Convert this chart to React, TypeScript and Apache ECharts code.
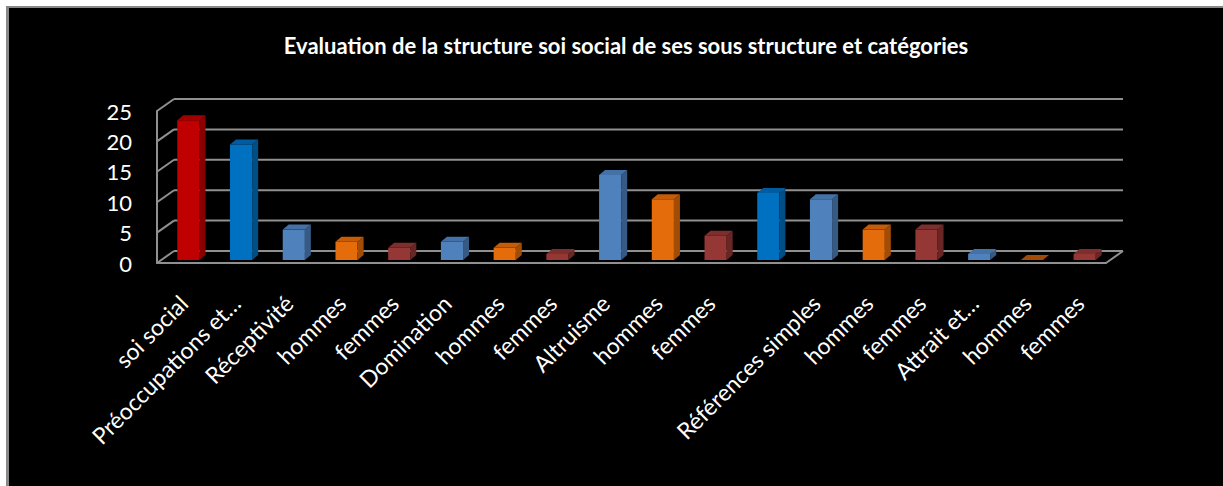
import React, { useEffect, useRef } from "react";
import * as echarts from "echarts";

const title = "Evaluation de la structure soi social de ses sous structure et catégories";
const categories = [
  "soi social", "Préoccupations et…", "Réceptivité", "hommes", "femmes",
  "Domination", "hommes", "femmes", "Altruisme", "hommes", "femmes",
  "", "Références simples", "hommes", "femmes", "Attrait et…", "hommes", "femmes",
];
const values = [23, 19, 5, 3, 2, 3, 2, 1, 14, 10, 4, 11, 10, 5, 5, 1, 0, 1];
const yTicks = [0, 5, 10, 15, 20, 25];

// styles (face colours per bar: front, side, top)
const RED = ["#C00000", "#8A0000", "#A00000"];
const DBLUE = ["#0070C0", "#004E86", "#005CA0"];
const LBLUE = ["#4F81BD", "#375A85", "#4472A8"];
const ORANGE = ["#E46C0A", "#A24C06", "#C45C08"];
const DRED = ["#953735", "#692625", "#7E2E2D"];
const barStyles = [RED, DBLUE, LBLUE, ORANGE, DRED, LBLUE, ORANGE, DRED, LBLUE, ORANGE, DRED, DBLUE, LBLUE, ORANGE, DRED, LBLUE, ORANGE, DRED];

const FRAME = "#909090";
const WALL_DX = 17;
const WALL_DY = -12;

export default function App() {
  const ref = useRef<HTMLDivElement>(null);
  useEffect(() => {
    if (!ref.current) return;
    const chart = echarts.init(ref.current, null, { renderer: "svg" });
    chart.setOption({
      animation: false,
      backgroundColor: "transparent",
      graphic: [
        {
          type: "text",
          x: 626,
          y: 45,
          style: {
            text: title,
            fill: "#ffffff",
            font: "bold 22px Lato",
            textAlign: "center",
            textVerticalAlign: "middle",
          },
        },
      ],
      grid: { left: 157, right: 117, top: 111, bottom: 223, containLabel: false },
      xAxis: {
        type: "category",
        data: categories,
        axisLine: { show: true, lineStyle: { color: FRAME, width: 2 } },
        axisTick: { show: false },
        axisLabel: {
          interval: 0,
          rotate: 45,
          margin: 36,
          color: "#ffffff",
          fontFamily: "Lato",
          fontSize: 23,
        },
        splitLine: { show: false },
      },
      yAxis: {
        type: "value",
        min: 0,
        max: 25,
        interval: 5,
        axisLine: { show: true, lineStyle: { color: FRAME, width: 2 } },
        axisTick: { show: false },
        axisLabel: {
          margin: 25,
          color: "#ffffff",
          fontFamily: "Lato",
          fontSize: 22,
          padding: [4, 0, 0, 0],
        },
        splitLine: { show: false },
      },
      series: [
        {
          type: "custom",
          z: 1,
          clip: false,
          silent: true,
          data: yTicks.map((v) => [0, v]),
          renderItem: (params: any, api: any) => {
            const cs = params.coordSys;
            const v = api.value(1);
            const y = api.coord([0, v])[1];
            const x0 = cs.x;
            const x1 = cs.x + cs.width;
            const ls = { stroke: FRAME, lineWidth: 2 };
            const children: any[] = [
              { type: "line", shape: { x1: x0 + WALL_DX, y1: y + WALL_DY, x2: x1 + WALL_DX, y2: y + WALL_DY }, style: ls },
              { type: "line", shape: { x1: x0, y1: y, x2: x0 + WALL_DX, y2: y + WALL_DY }, style: ls },
            ];
            if (v === 0) {
              children.push({ type: "line", shape: { x1: x1, y1: y, x2: x1 + WALL_DX, y2: y + WALL_DY }, style: ls });
            }
            return { type: "group", children };
          },
        },
        {
          type: "custom",
          z: 3,
          clip: false,
          data: values.map((v, i) => [i, v]),
          renderItem: (params: any, api: any) => {
            const i = api.value(0);
            const v = api.value(1);
            const top = api.coord([i, v]);
            const base = api.coord([i, 0]);
            const w = api.size([1, 0])[0] * 0.42;
            const ox = 5, oy = -3, dx = 6, dy = -5;
            const xa = top[0] - w / 2 + ox;
            const xb = xa + w;
            const yT = top[1] + oy;
            const yB = base[1] + oy;
            const c = barStyles[params.dataIndex];
            const children: any[] = [];
            if (yB - yT > 0.5) {
              children.push({ type: "rect", shape: { x: xa, y: yT, width: w, height: yB - yT }, style: { fill: c[0] } });
              children.push({
                type: "polygon",
                shape: { points: [[xb, yB], [xb, yT], [xb + dx, yT + dy], [xb + dx, yB + dy]] },
                style: { fill: c[1] },
              });
            }
            children.push({
              type: "polygon",
              shape: { points: [[xa, yT], [xb, yT], [xb + dx, yT + dy], [xa + dx, yT + dy]] },
              style: { fill: v === 0 ? c[1] : c[2] },
            });
            return { type: "group", children };
          },
        },
      ],
    });
    return () => chart.dispose();
  }, []);

  return (
    <div style={{ position: "fixed", left: 0, top: 0, right: 0, bottom: 0, background: "#000000", overflow: "hidden" }}>
      <div style={{ position: "absolute", left: 0, top: 0, right: 0, height: 6, background: "#ffffff" }} />
      <div style={{ position: "absolute", left: 0, top: 0, bottom: 0, width: 6, background: "#ffffff" }} />
      <div style={{ position: "absolute", left: 6, top: 6, right: 0, height: 2, background: "#888888" }} />
      <div style={{ position: "absolute", left: 6, top: 6, bottom: 0, width: 3, background: "#888888" }} />
      <div ref={ref} style={{ position: "absolute", left: 0, top: 0, width: 1223, height: 486 }} />
    </div>
  );
}
